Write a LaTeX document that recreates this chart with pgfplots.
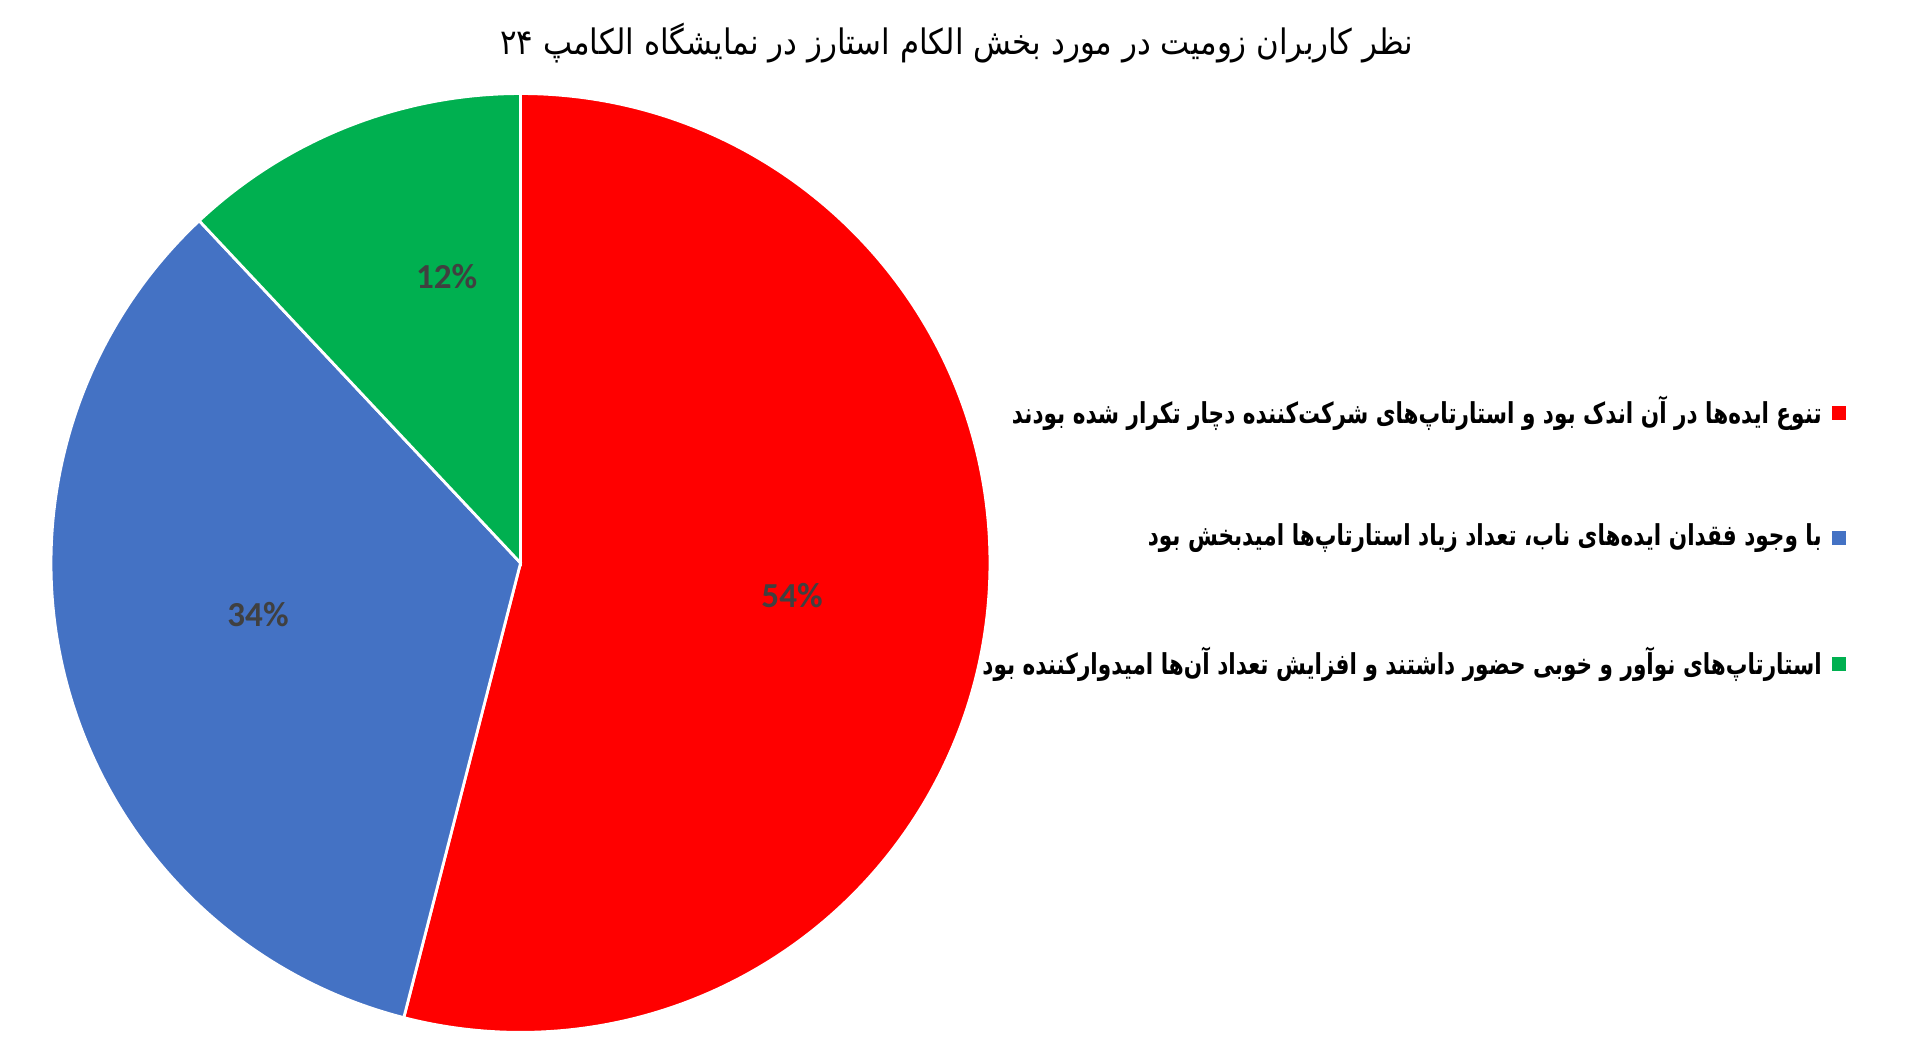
\documentclass[border=0pt]{standalone}
\usepackage{fontspec}
\setmainfont{Carlito}
\newfontfamily\titlefont{DejaVu Sans}[Script=Arabic, FakeStretch=0.88]
\newfontfamily\legfont{DejaVu Sans}[Script=Arabic, FakeStretch=0.75]
\TeXXeTstate=1
\usepackage{pgfplots}
\usepackage{pgfplotstable}
\pgfplotsset{compat=1.18}

\definecolor{sliceRed}{HTML}{FF0000}
\definecolor{sliceBlue}{HTML}{4472C4}
\definecolor{sliceGreen}{HTML}{00B050}
\definecolor{lblGray}{HTML}{404040}

% shares in percent, clockwise from 12 o'clock
\pgfplotstableread{
share
54
34
12
}\piedata

\begin{document}
\begin{tikzpicture}
\pgfplotstablegetelem{0}{share}\of\piedata \let\sA\pgfplotsretval
\pgfplotstablegetelem{1}{share}\of\piedata \let\sB\pgfplotsretval
\pgfplotstablegetelem{2}{share}\of\piedata \let\sC\pgfplotsretval
\pgfmathsetmacro{\aA}{90}
\pgfmathsetmacro{\aB}{\aA-3.6*\sA}
\pgfmathsetmacro{\aC}{\aB-3.6*\sB}
\pgfmathsetmacro{\aD}{\aC-3.6*\sC}
\def\R{4.70cm}
\begin{axis}[
    x=0.01cm, y=0.01cm,
    xmin=0, xmax=1920, ymin=0, ymax=1065,
    hide axis, clip=false,
    scale only axis,
]
\path (axis cs:0,0) rectangle (axis cs:1920,1065);
\coordinate (O) at (axis cs:518,501);
\filldraw[fill=sliceRed, draw=white, line width=0.8pt]
    (O) -- ++(\aA:\R) arc[start angle=\aA, end angle=\aB, radius=\R] -- cycle;
\filldraw[fill=sliceBlue, draw=white, line width=0.8pt]
    (O) -- ++(\aB:\R) arc[start angle=\aB, end angle=\aC, radius=\R] -- cycle;
\filldraw[fill=sliceGreen, draw=white, line width=0.8pt]
    (O) -- ++(\aC:\R) arc[start angle=\aC, end angle=\aD, radius=\R] -- cycle;

% slice labels
\node[text=lblGray, font=\bfseries\fontsize{10}{12}\selectfont] at (axis cs:790,468) {\sA\%};
\node[text=lblGray, font=\bfseries\fontsize{10}{12}\selectfont] at (axis cs:255,449) {\sB\%};
\node[text=lblGray, font=\bfseries\fontsize{10}{12}\selectfont] at (axis cs:444,788) {\sC\%};

% title
\node[font=\fontsize{10}{12}\selectfont] at (axis cs:955,1022)
    {\titlefont\beginR نظر کاربران زومیت در مورد بخش الکام استارز در نمایشگاه الکامپ ۲۴\endR};

% legend
\fill[sliceRed] (axis cs:1832,644) rectangle (axis cs:1846,658);
\fill[sliceBlue] (axis cs:1832,519) rectangle (axis cs:1846,533);
\fill[sliceGreen] (axis cs:1832,393) rectangle (axis cs:1846,407);
\node[anchor=east, font=\fontsize{8.2}{10}\selectfont] at (axis cs:1834,651)
    {\legfont\bfseries\beginR تنوع ایده‌ها در آن اندک بود و استارتاپ‌های شرکت‌کننده دچار تکرار شده بودند\endR};
\node[anchor=east, font=\fontsize{8.2}{10}\selectfont] at (axis cs:1834,526)
    {\legfont\bfseries\beginR با وجود فقدان ایده‌های ناب، تعداد زیاد استارتاپ‌ها امیدبخش بود\endR};
\node[anchor=east, font=\fontsize{8.2}{10}\selectfont] at (axis cs:1834,400)
    {\legfont\bfseries\beginR استارتاپ‌های نوآور و خوبی حضور داشتند و افزایش تعداد آن‌ها امیدوارکننده بود\endR};
\end{axis}
\end{tikzpicture}
\end{document}
